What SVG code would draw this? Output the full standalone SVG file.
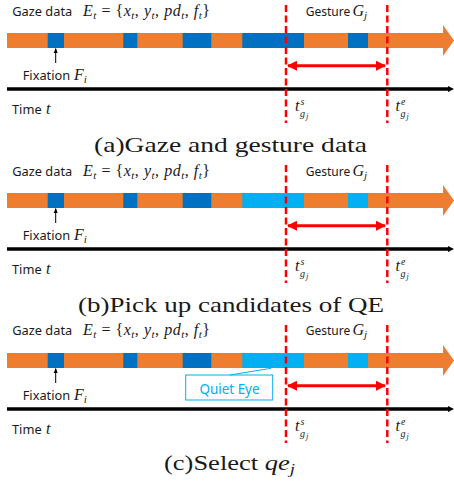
<svg xmlns="http://www.w3.org/2000/svg" width="454" height="481" viewBox="0 0 454 481">
<defs>
<style>
.lbl{font-family:"Noto Sans","Open Sans","DejaVu Sans",sans-serif;font-size:12.8px;fill:#1a1a1a}
.ges{font-size:12px}
.math{font-family:"Liberation Serif","DejaVu Serif",serif;font-style:italic;font-size:16px;fill:#1a1a1a}
.mr{font-style:normal}
.sub{font-size:11px}
.sm{font-family:"Liberation Serif","DejaVu Serif",serif;font-style:italic;font-size:10px;fill:#1a1a1a}
.sj{font-family:"Liberation Serif","DejaVu Serif",serif;font-style:italic;font-size:8px;fill:#1a1a1a}
.cap{font-family:"Liberation Serif","DejaVu Serif",serif;font-size:21px;fill:#1a1a1a}
.or{fill:#ED7D31}
.db{fill:#0070C0}
.lb{fill:#00B0F0}
.dash{stroke:#FF0000;stroke-width:2.5;stroke-dasharray:7,3.5;fill:none}
.tl{stroke:#000;stroke-width:3.5;fill:none}
.ra{stroke:#FF0000;stroke-width:3;fill:none;marker-start:url(#rs);marker-end:url(#re)}
.fx{stroke:#000;stroke-width:1;fill:none;marker-end:url(#ka)}
</style>
<marker id="rs" viewBox="0 0 10 10" refX="1" refY="5" markerWidth="3.4" markerHeight="3.4" orient="auto"><path d="M10,0 L0,5 L10,10 z" fill="#FF0000"/></marker>
<marker id="re" viewBox="0 0 10 10" refX="9" refY="5" markerWidth="3.4" markerHeight="3.4" orient="auto"><path d="M0,0 L10,5 L0,10 z" fill="#FF0000"/></marker>
<marker id="ka" viewBox="0 0 10 10" refX="9" refY="5" markerWidth="5" markerHeight="5" orient="auto"><path d="M0,1 L10,5 L0,9 z" fill="#000"/></marker>
</defs>

<!-- Panel (a) -->
<g id="panel-a">
  <g id="a-gaze-bar">
    <rect class="or" x="7" y="33" width="437" height="15"/>
    <polygon class="or" points="443,25 454,40.5 443,56"/>
    <rect class="db" x="47.7" y="33" width="16.3" height="15"/>
    <rect class="db" x="123.3" y="33" width="14" height="15"/>
    <rect class="db" x="182.7" y="33" width="28.6" height="15"/>
    <rect class="db" x="242.3" y="33" width="61.7" height="15"/>
    <rect class="db" x="348" y="33" width="20" height="15"/>
  </g>
  <g id="a-labels">
    <text class="lbl" x="12.3" y="16">Gaze data</text>
    <text class="math" x="83" y="16" textLength="127" lengthAdjust="spacing">E<tspan class="sub" dy="3">t</tspan><tspan class="mr" dy="-3"> = {</tspan>x<tspan class="sub" dy="3">t</tspan><tspan class="mr" dy="-3">,  </tspan>y<tspan class="sub" dy="3">t</tspan><tspan class="mr" dy="-3">,  </tspan>pd<tspan class="sub" dy="3">t</tspan><tspan class="mr" dy="-3">,  </tspan>f<tspan class="sub" dy="3">t</tspan><tspan class="mr" dy="-3">}</tspan></text>
    <text class="lbl ges" x="305.7" y="16">Gesture</text>
    <text class="math" x="352.5" y="16">G<tspan class="sub" dy="3">j</tspan></text>
    <text class="lbl" x="22.7" y="80">Fixation</text>
    <text class="math" x="74" y="80">F<tspan class="sub" dy="3">i</tspan></text>
    <text class="lbl" x="12" y="114">Time</text>
    <text class="math" x="46" y="114">t</text>
    <text class="math" x="295" y="111">t</text>
    <text class="sm" x="300.5" y="105">s</text>
    <text class="sm" x="300" y="117">g</text>
    <text class="sj" x="306" y="119">j</text>
    <text class="math" x="395.5" y="111">t</text>
    <text class="sm" x="401" y="105">e</text>
    <text class="sm" x="400.5" y="117">g</text>
    <text class="sj" x="406.5" y="119">j</text>
    <text class="cap" x="94" y="152" textLength="273" lengthAdjust="spacingAndGlyphs">(a)Gaze and gesture data</text>
  </g>
  <g id="a-connectors">
    <line class="tl" x1="7" y1="89" x2="449" y2="89"/>
    <polygon points="448,86 454,89 448,92" fill="#000"/>
    <line class="fx" x1="55.7" y1="63" x2="55.7" y2="48.5"/>
    <line class="dash" x1="286" y1="5" x2="286" y2="123"/>
    <line class="dash" x1="387.3" y1="5" x2="387.3" y2="123"/>
    <line class="ra" x1="288" y1="65.7" x2="385" y2="65.7"/>
  </g>
</g>

<!-- Panel (b) -->
<g id="panel-b" transform="translate(0,160)">
  <g id="b-gaze-bar">
    <rect class="or" x="7" y="33" width="437" height="15"/>
    <polygon class="or" points="443,25 454,40.5 443,56"/>
    <rect class="db" x="47.7" y="33" width="16.3" height="15"/>
    <rect class="db" x="123.3" y="33" width="14" height="15"/>
    <rect class="db" x="182.7" y="33" width="28.6" height="15"/>
    <rect class="lb" x="242.3" y="33" width="61.7" height="15"/>
    <rect class="lb" x="348" y="33" width="20" height="15"/>
  </g>
  <g id="b-labels">
    <text class="lbl" x="12.3" y="16">Gaze data</text>
    <text class="math" x="83" y="16" textLength="127" lengthAdjust="spacing">E<tspan class="sub" dy="3">t</tspan><tspan class="mr" dy="-3"> = {</tspan>x<tspan class="sub" dy="3">t</tspan><tspan class="mr" dy="-3">,  </tspan>y<tspan class="sub" dy="3">t</tspan><tspan class="mr" dy="-3">,  </tspan>pd<tspan class="sub" dy="3">t</tspan><tspan class="mr" dy="-3">,  </tspan>f<tspan class="sub" dy="3">t</tspan><tspan class="mr" dy="-3">}</tspan></text>
    <text class="lbl ges" x="305.7" y="16">Gesture</text>
    <text class="math" x="352.5" y="16">G<tspan class="sub" dy="3">j</tspan></text>
    <text class="lbl" x="22.7" y="80">Fixation</text>
    <text class="math" x="74" y="80">F<tspan class="sub" dy="3">i</tspan></text>
    <text class="lbl" x="12" y="114">Time</text>
    <text class="math" x="46" y="114">t</text>
    <text class="math" x="295" y="111">t</text>
    <text class="sm" x="300.5" y="105">s</text>
    <text class="sm" x="300" y="117">g</text>
    <text class="sj" x="306" y="119">j</text>
    <text class="math" x="395.5" y="111">t</text>
    <text class="sm" x="401" y="105">e</text>
    <text class="sm" x="400.5" y="117">g</text>
    <text class="sj" x="406.5" y="119">j</text>
    <text class="cap" x="78" y="152" textLength="306" lengthAdjust="spacingAndGlyphs">(b)Pick up candidates of QE</text>
  </g>
  <g id="b-connectors">
    <line class="tl" x1="7" y1="89" x2="449" y2="89"/>
    <polygon points="448,86 454,89 448,92" fill="#000"/>
    <line class="fx" x1="55.7" y1="63" x2="55.7" y2="48.5"/>
    <line class="dash" x1="286" y1="5" x2="286" y2="123"/>
    <line class="dash" x1="387.3" y1="5" x2="387.3" y2="123"/>
    <line class="ra" x1="288" y1="65.7" x2="385" y2="65.7"/>
  </g>
</g>

<!-- Panel (c) -->
<g id="panel-c" transform="translate(0,320)">
  <g id="c-gaze-bar">
    <rect class="or" x="7" y="33" width="437" height="15"/>
    <polygon class="or" points="443,25 454,40.5 443,56"/>
    <rect class="db" x="47.7" y="33" width="16.3" height="15"/>
    <rect class="db" x="123.3" y="33" width="14" height="15"/>
    <rect class="db" x="182.7" y="33" width="28.6" height="15"/>
    <rect class="lb" x="242.3" y="33" width="61.7" height="15"/>
    <rect class="lb" x="348" y="33" width="20" height="15"/>
  </g>
  <g id="c-quiet-eye">
    <rect x="185.7" y="55" width="87" height="25" fill="#fff" stroke="#00B0F0" stroke-width="1"/>
    <text x="229.5" y="73.5" text-anchor="middle" font-family="'Noto Sans','Open Sans',sans-serif" font-size="14" fill="#00B0F0" textLength="60" lengthAdjust="spacingAndGlyphs">Quiet Eye</text>
  </g>
  <g id="c-labels">
    <text class="lbl" x="12.3" y="15">Gaze data</text>
    <text class="math" x="83" y="15" textLength="127" lengthAdjust="spacing">E<tspan class="sub" dy="3">t</tspan><tspan class="mr" dy="-3"> = {</tspan>x<tspan class="sub" dy="3">t</tspan><tspan class="mr" dy="-3">,  </tspan>y<tspan class="sub" dy="3">t</tspan><tspan class="mr" dy="-3">,  </tspan>pd<tspan class="sub" dy="3">t</tspan><tspan class="mr" dy="-3">,  </tspan>f<tspan class="sub" dy="3">t</tspan><tspan class="mr" dy="-3">}</tspan></text>
    <text class="lbl ges" x="305.7" y="15">Gesture</text>
    <text class="math" x="352.5" y="15">G<tspan class="sub" dy="3">j</tspan></text>
    <text class="lbl" x="22.7" y="80">Fixation</text>
    <text class="math" x="74" y="80">F<tspan class="sub" dy="3">i</tspan></text>
    <text class="lbl" x="12" y="114">Time</text>
    <text class="math" x="46" y="114">t</text>
    <text class="math" x="295" y="111">t</text>
    <text class="sm" x="300.5" y="105">s</text>
    <text class="sm" x="300" y="117">g</text>
    <text class="sj" x="306" y="119">j</text>
    <text class="math" x="395.5" y="111">t</text>
    <text class="sm" x="401" y="105">e</text>
    <text class="sm" x="400.5" y="117">g</text>
    <text class="sj" x="406.5" y="119">j</text>
    <text class="cap" x="164" y="150" textLength="131" lengthAdjust="spacingAndGlyphs">(c)Select <tspan font-style="italic">qe</tspan><tspan font-style="italic" font-size="15" dy="4">j</tspan></text>
  </g>
  <g id="c-connectors">
    <line class="tl" x1="7" y1="89" x2="449" y2="89"/>
    <polygon points="448,86 454,89 448,92" fill="#000"/>
    <line class="fx" x1="55.7" y1="63" x2="55.7" y2="48.5"/>
    <line x1="230" y1="55" x2="271" y2="48.3" stroke="#00B0F0" stroke-width="1"/>
    <line class="dash" x1="286" y1="5" x2="286" y2="123"/>
    <line class="dash" x1="387.3" y1="5" x2="387.3" y2="123"/>
    <line class="ra" x1="288" y1="65.7" x2="385" y2="65.7"/>
  </g>
</g>
</svg>
